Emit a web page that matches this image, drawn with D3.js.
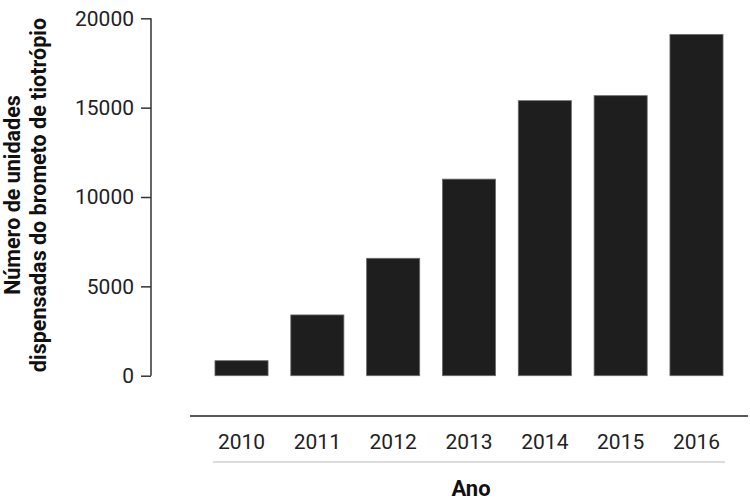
<!DOCTYPE html>
<html>
<head>
<meta charset="utf-8">
<script src="https://cdn.jsdelivr.net/npm/d3@7"></script>
<style>
  body { margin: 0; background: #fff; }
  svg { display: block; font-family: Roboto, "Liberation Sans", sans-serif; }
</style>
</head>
<body>
<div id="chart"></div>
<script>
const anos = ["2010", "2011", "2012", "2013", "2014", "2015", "2016"];
const unidades = [840, 3400, 6570, 11000, 15390, 15670, 19100];
const yTicks = [0, 5000, 10000, 15000, 20000];

const width = 750;
const height = 501;

let svg = d3.select("#chart").append("svg")
    .attr("width", width)
    .attr("height", height);

let data = anos.map((a, i) => ({ ano: a, valor: unidades[i] }));

let xScale = d3.scaleBand()
    .domain(anos)
    .range([203.6, 734.4])
    .paddingInner(0.3)
    .paddingOuter(0.15);

let yScale = d3.scaleLinear()
    .domain([0, 20000])
    .range([375.7, 18.3]);

// barras
svg.selectAll("rect.bar")
    .data(data)
    .enter()
    .append("rect")
    .attr("class", "bar")
    .attr("x", d => xScale(d.ano))
    .attr("y", d => yScale(d.valor))
    .attr("width", xScale.bandwidth())
    .attr("height", d => yScale(0) - yScale(d.valor))
    .attr("fill", "#1e1e1e")
    .attr("stroke", "#6a6a6a")
    .attr("stroke-width", 0.8);

// eixo y
let yAxis = svg.append("g")
    .attr("transform", "translate(151,0)")
    .call(d3.axisLeft(yScale).tickValues(yTicks).tickSize(10).tickPadding(7).tickFormat(d3.format("d")));

yAxis.select(".domain")
    .attr("d", `M-0,${yScale(20000)}H0V${yScale(0)}H-0`)
    .attr("stroke", "#333")
    .attr("stroke-width", 1.5);
yAxis.selectAll(".tick line").attr("stroke", "#333").attr("stroke-width", 1.5);
yAxis.selectAll(".tick text")
    .attr("fill", "#222")
    .style("font-size", "21px")
    .style("font-family", "Roboto, sans-serif");

// linha horizontal preta
svg.append("line")
    .attr("x1", 190).attr("x2", 748)
    .attr("y1", 416).attr("y2", 416)
    .attr("stroke", "#222")
    .attr("stroke-width", 1.5);

// rótulos dos anos
let xAxis = svg.append("g")
    .attr("transform", "translate(0,416)")
    .call(d3.axisBottom(xScale).tickSize(0).tickPadding(18));
xAxis.select(".domain").remove();
xAxis.selectAll(".tick text")
    .attr("fill", "#222")
    .style("font-size", "21px")
    .style("font-family", "Roboto, sans-serif");

// linha cinza
svg.append("line")
    .attr("x1", xScale(anos[0]) - 2)
    .attr("x2", xScale(anos[anos.length - 1]) + xScale.bandwidth() + 2)
    .attr("y1", 462).attr("y2", 462)
    .attr("stroke", "#d0d0d0")
    .attr("stroke-width", 1.5);

// título eixo x
svg.append("text")
    .attr("x", (xScale(anos[0]) + xScale(anos[anos.length - 1]) + xScale.bandwidth()) / 2 + 2)
    .attr("y", 496)
    .attr("text-anchor", "middle")
    .attr("fill", "#111")
    .style("font-size", "22px")
    .style("font-weight", "bold")
    .text("Ano");

// título eixo y
let yLabel = svg.append("text")
    .attr("transform", "translate(0,195) rotate(-90)")
    .attr("text-anchor", "middle")
    .attr("fill", "#111")
    .style("font-size", "21.5px")
    .style("font-weight", "bold");
yLabel.append("tspan").attr("x", 0).attr("y", 20).text("Número de unidades");
yLabel.append("tspan").attr("x", 0).attr("y", 46).text("dispensadas do brometo de tiotrópio");
</script>
</body>
</html>
